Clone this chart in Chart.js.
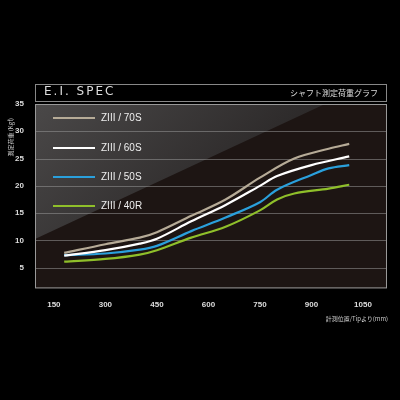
<!DOCTYPE html>
<html><head><meta charset="utf-8">
<script src="https://cdn.jsdelivr.net/npm/chart.js@4"></script>
<style>
body{margin:0;background:#000;width:400px;height:400px;overflow:hidden;font-family:"Noto Sans CJK JP","DejaVu Sans",sans-serif;}
#wrap{position:absolute;left:0;top:0;width:400px;height:400px;}
#head{position:absolute;left:35px;top:84px;width:350px;height:16px;border:1px solid #888;color:#ddd;}
#head .t{position:absolute;left:8px;top:-1px;font-family:"DejaVu Sans";font-size:12px;letter-spacing:2px;}
#head .s{position:absolute;right:8px;top:2px;font-size:8px;}
.leg{position:absolute;left:53px;color:#eee;font-size:10px;font-family:"Liberation Sans",sans-serif;}
.leg i{display:inline-block;width:42px;height:2px;vertical-align:middle;margin-right:6px;}
#yt{position:absolute;left:-20px;top:122px;transform:rotate(-90deg);color:#ccc;font-size:6px;width:60px;}
#xt{position:absolute;right:12px;top:314px;color:#ccc;font-size:6px;}
</style></head>
<body><div id="wrap">
<canvas id="c" width="400" height="400"></canvas>
<div id="head"><span class="t">E.I. SPEC</span><span class="s">シャフト測定荷重グラフ</span></div>
<div class="leg" style="top:112px"><i style="background:#b6ab97"></i>ZIII / 70S</div>
<div class="leg" style="top:142px"><i style="background:#fff"></i>ZIII / 60S</div>
<div class="leg" style="top:171px"><i style="background:#2aa0dc"></i>ZIII / 50S</div>
<div class="leg" style="top:200px"><i style="background:#8fbf2a"></i>ZIII / 40R</div>
<div id="yt">測定荷重 (Kgf)</div>
<div id="xt">計測位置/Tipより(mm)</div>
</div>
<script>
const names = ["ZIII / 70S","ZIII / 60S","ZIII / 50S","ZIII / 40R"];
const colors = ["#b6ab97","#ffffff","#2aa0dc","#8fbf2a"];
const s70 = [[180,7.7],[300,9.3],[400,10.5],[450,11.5],[550,14.5],[650,17.5],[750,21.5],[850,25],[950,26.8],[1010,27.7]];
const s60 = [[180,7.2],[300,8.2],[400,9.4],[450,10.3],[550,13.5],[650,16.5],[750,20],[800,21.8],[900,23.8],[1010,25.4]];
const s50 = [[180,7.3],[300,7.6],[400,8.3],[450,9],[550,11.7],[650,14.2],[750,17],[800,19.3],[900,22],[950,23.2],[1010,23.8]];
const s40 = [[180,6.1],[300,6.6],[400,7.4],[450,8.2],[550,10.5],[650,12.5],[750,15.5],[800,17.5],[850,18.6],[950,19.5],[1010,20.2]];
const xTicks = [150,300,450,600,750,900,1050];
const yTicks = [5,10,15,20,25,30,35];
const series = [s70,s60,s50,s40];

const bg = {
  id:"bg",
  beforeDatasetsDraw(ch){
    const a = ch.chartArea, c = ch.ctx;
    c.save();
    c.fillStyle = "#1d1513";
    c.fillRect(a.left,a.top,a.width,a.height);
    const g = c.createLinearGradient(a.left,a.top,a.left+150,a.top+150);
    g.addColorStop(0,"#4a4848"); g.addColorStop(1,"#2b2828");
    c.fillStyle = g;
    c.beginPath();
    c.moveTo(a.left,a.top); c.lineTo(a.left+290,a.top); c.lineTo(a.left,a.top+135); c.closePath(); c.fill();
    c.restore();
    const y = ch.scales.y;
    c.save(); c.strokeStyle="rgba(150,150,150,.55)"; c.lineWidth=1;
    yTicks.forEach(v=>{const p=Math.round(y.getPixelForValue(v))+.5;c.beginPath();c.moveTo(a.left,p);c.lineTo(a.right,p);c.stroke();});
    c.strokeStyle="#999"; c.strokeRect(a.left+.5,a.top+.5,a.width-1,a.height-1);
    c.restore();
  }
};

new Chart(document.getElementById("c"),{
  type:"line",
  data:{datasets: series.map((s,i)=>({label:names[i],data:s.map(p=>({x:p[0],y:p[1]})),borderColor:colors[i],borderWidth:2.2,pointRadius:0,tension:0.35,fill:false}))},
  options:{
    responsive:false,animation:false,
    layout:{padding:{left:0,right:13,top:104,bottom:86}},
    plugins:{legend:{display:false},tooltip:{enabled:false}},
    scales:{
      x:{type:"linear",min:95,max:1120,afterBuildTicks:s=>{s.ticks=xTicks.map(v=>({value:v}));},
        grid:{display:false},border:{display:false},
        ticks:{color:"#ddd",font:{size:8,weight:"bold",family:"Liberation Sans"},padding:4,callback:v=>String(v)}},
      y:{min:1.2,max:35,afterBuildTicks:s=>{s.ticks=yTicks.map(v=>({value:v}));},
        grid:{display:false},border:{display:false},afterFit:s=>{s.width=35;},
        ticks:{color:"#ddd",font:{size:8,weight:"bold",family:"Liberation Sans"},padding:3}}
    }
  },
  plugins:[bg]
});
</script>
</body></html>
